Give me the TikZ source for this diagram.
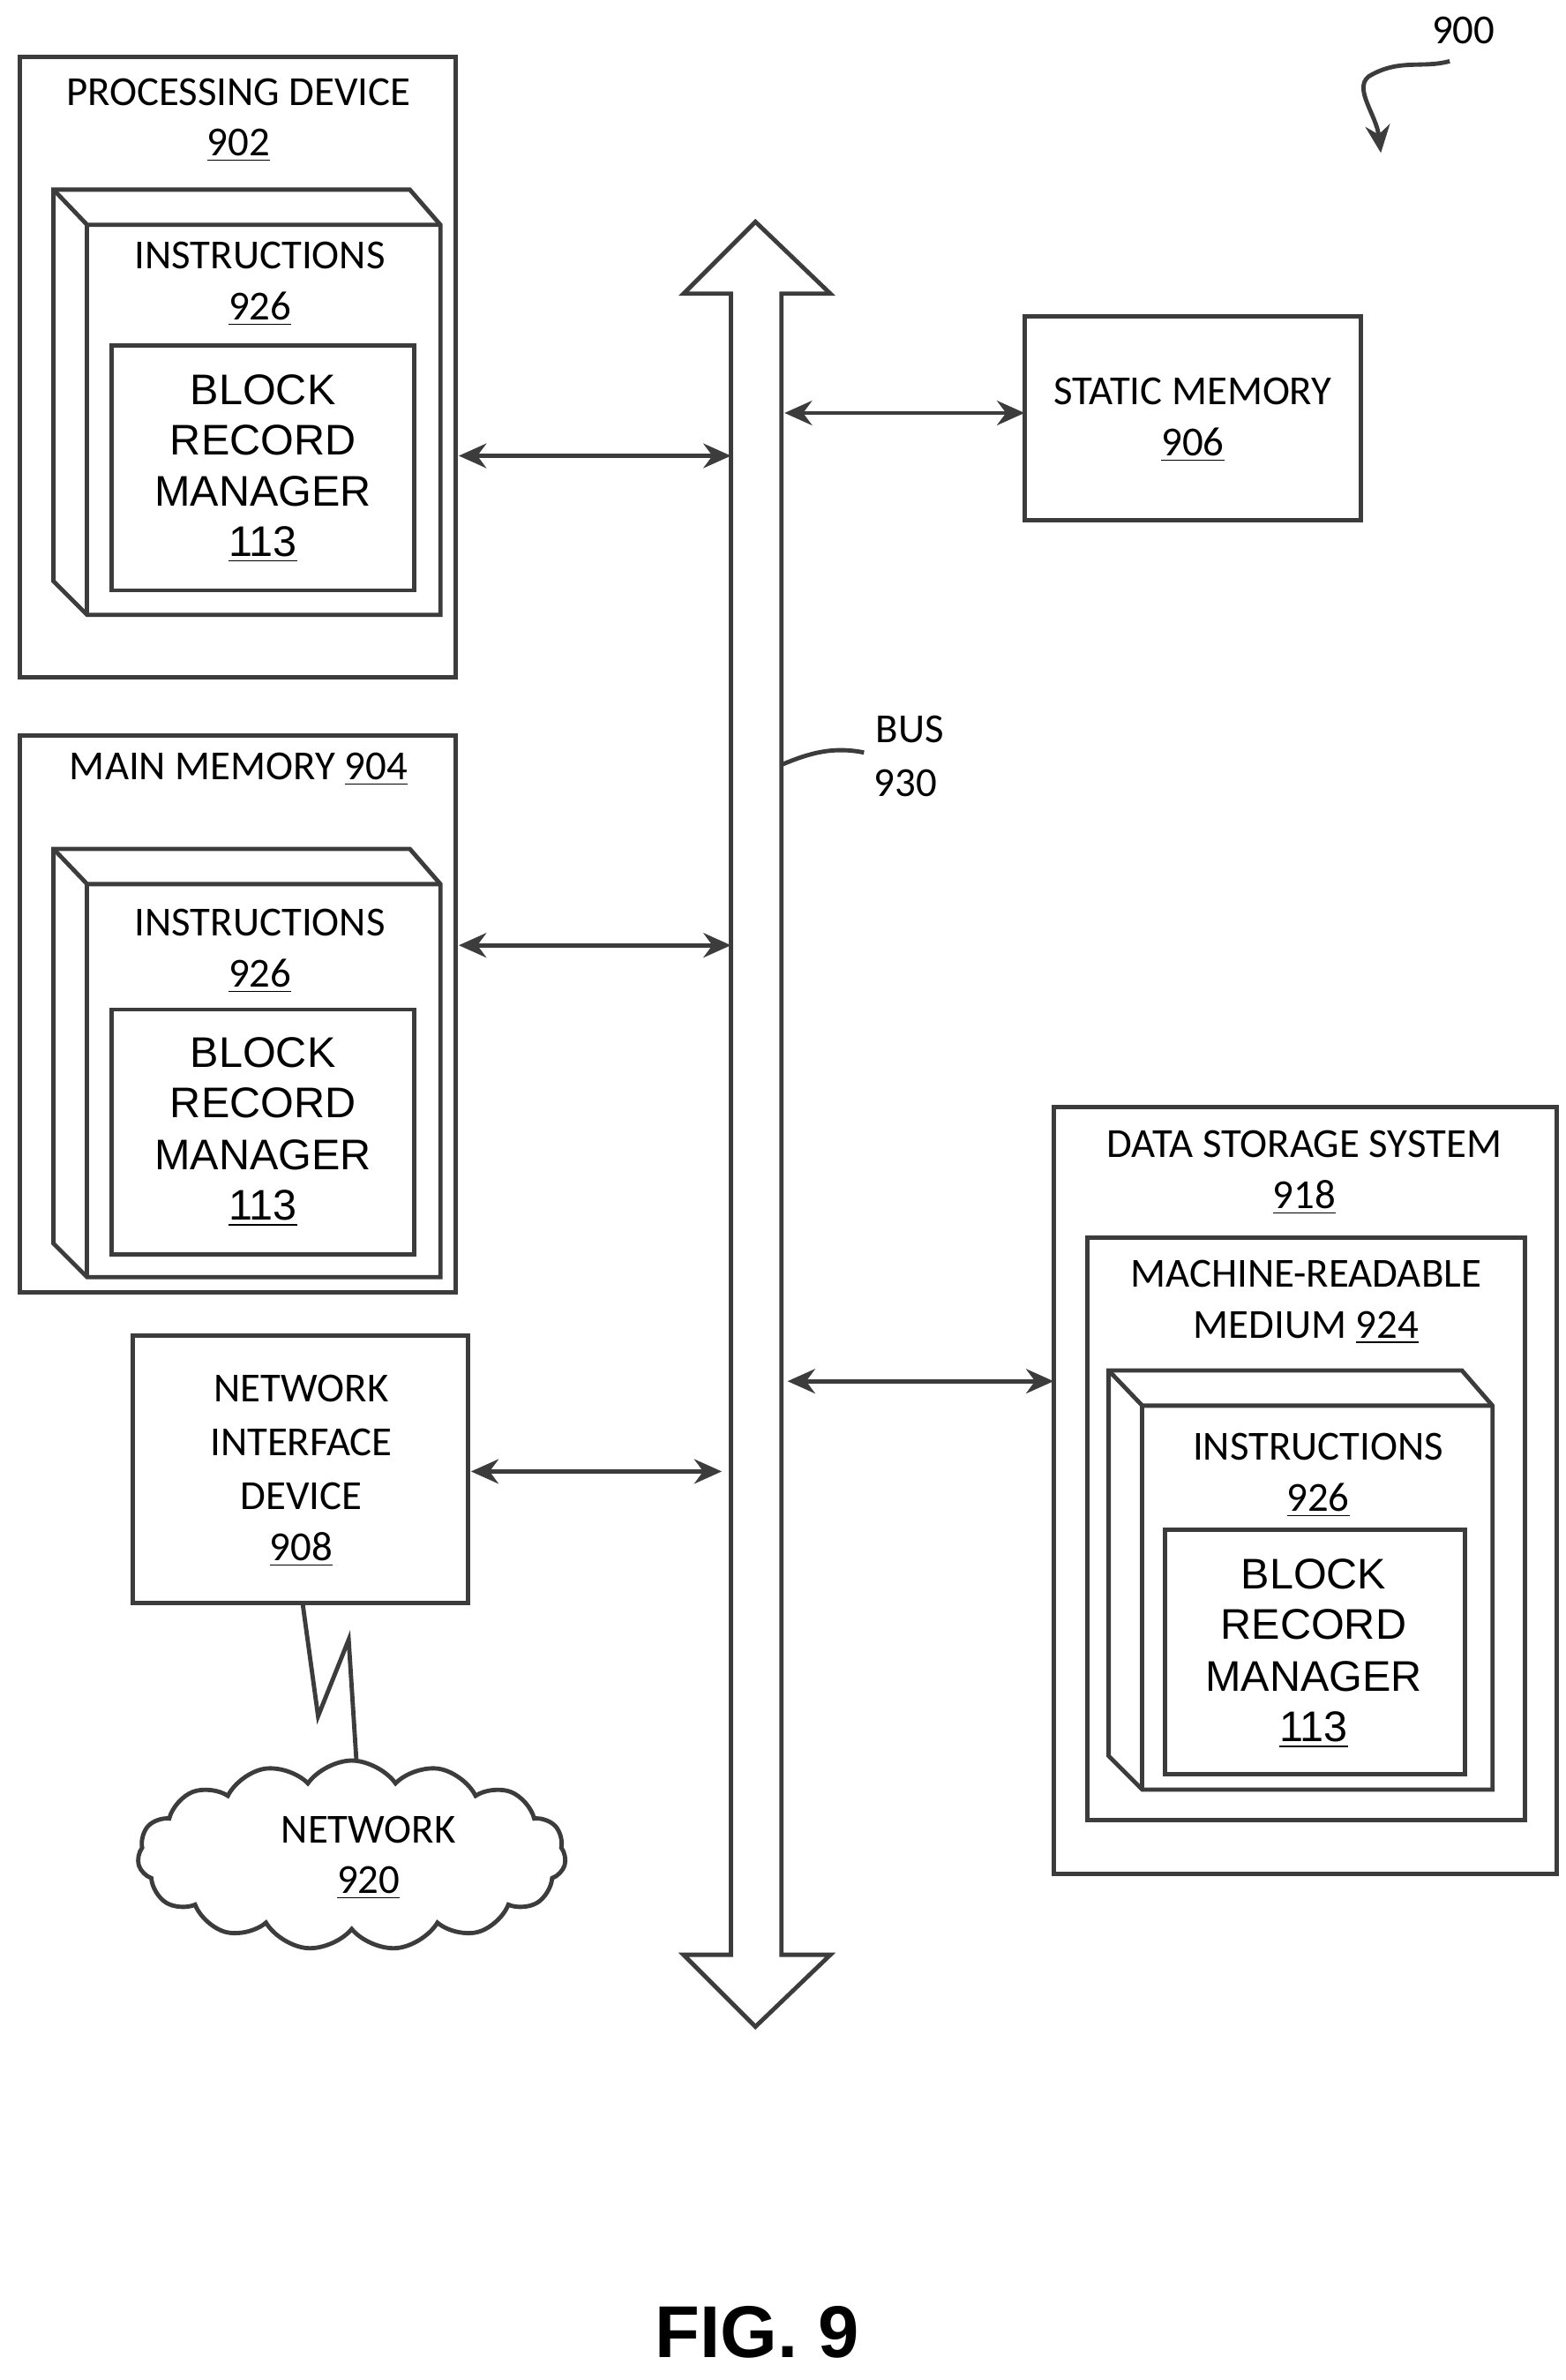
\documentclass[tikz,border=0pt]{standalone}
\usepackage{fontspec}
\setmainfont{Carlito}
\newfontfamily\arialf{Liberation Sans}
\usetikzlibrary{shapes.symbols,arrows.meta}
\definecolor{ln}{HTML}{3C3C3C}
\begin{document}
\begin{tikzpicture}[x=0.5pt,y=-0.5pt,
  box/.style={draw=ln,line width=1.4pt},
  lbl/.style={font=\fontsize{13.5}{15}\selectfont,inner sep=0pt,anchor=center},
  big/.style={font=\arialf\fontsize{14}{16}\selectfont,inner sep=0pt,anchor=center},
  dbl/.style={draw=ln,line width=1.4pt,{Stealth[length=9pt,width=8pt]}-{Stealth[length=9pt,width=8pt]}}]
\useasboundingbox (0,0) rectangle (1024,1556);
\newcommand{\threed}[4]{%
 \draw[box,line join=miter] (#1-22,#2-23) -- (#3-20,#2-23) -- (#3,#2) -- (#3,#4) -- (#1,#4) -- (#1-22,#4-22) -- cycle;
 \draw[box] (#1-22,#2-23) -- (#1,#2) -- (#3,#2);
 \draw[box] (#1,#2) -- (#1,#4);}
% Processing device
\draw[box] (13,37) rectangle (298,443);
\node[lbl] at (156,60) {PROCESSING DEVICE};
\node[lbl] at (156,95) {\underline{902}};
\threed{57}{147}{288}{402}
\node[lbl] at (170,167) {INSTRUCTIONS};
\node[lbl] at (170,202) {\underline{926}};
\draw[box] (73,226) rectangle (271,386);
\node[big] at (172,255) {BLOCK};
\node[big] at (172,288) {RECORD};
\node[big] at (172,321) {MANAGER};
\node[big] at (172,356) {\underline{113}};
% Main memory
\draw[box] (13,481) rectangle (298,845);
\node[lbl] at (156,503) {MAIN MEMORY \underline{904}};
\threed{57}{578}{288}{835}
\node[lbl] at (170,603) {INSTRUCTIONS};
\node[lbl] at (170,638) {\underline{926}};
\draw[box] (73,660) rectangle (271,820);
\node[big] at (172,688) {BLOCK};
\node[big] at (172,721) {RECORD};
\node[big] at (172,755) {MANAGER};
\node[big] at (172,790) {\underline{113}};
% Network interface
\draw[box] (87,873) rectangle (306,1048);
\node[lbl] at (197,908) {NETWORK};
\node[lbl] at (197,943) {INTERFACE};
\node[lbl] at (197,978) {DEVICE};
\node[lbl] at (197,1013) {\underline{908}};
\draw[box,line join=miter] (198,1049) -- (208,1122) -- (228,1072) -- (233,1150);
\node[cloud,cloud puffs=15,cloud puff arc=110,aspect=2.4,draw=ln,line width=1.4pt,minimum width=140pt,minimum height=62pt,inner sep=0pt] (net) at (230,1213) {};
\node[lbl] at (241,1196) {NETWORK};
\node[lbl] at (241,1231) {\underline{920}};
% Bus
\draw[box,line join=miter] (494,145) -- (543,192) -- (511,192) -- (511,1278) -- (543,1278) -- (494,1325) -- (447,1278) -- (478,1278) -- (478,192) -- (447,192) -- cycle;
\draw[box] (511,500) .. controls (530,492) and (545,488) .. (565,492);
\node[lbl] at (595,477) {BUS};
\node[lbl] at (592,512) {930};
% Static memory
\draw[box] (670,207) rectangle (890,340);
\node[lbl] at (780,256) {STATIC MEMORY};
\node[lbl] at (780,291) {\underline{906}};
% Data storage
\draw[box] (689,724) rectangle (1018,1225);
\node[lbl] at (853,748) {DATA STORAGE SYSTEM};
\node[lbl] at (853,783) {\underline{918}};
\draw[box] (711,809) rectangle (997,1190);
\node[lbl] at (854,833) {MACHINE-READABLE};
\node[lbl] at (854,868) {MEDIUM \underline{924}};
\threed{747}{919}{976}{1170}
\node[lbl] at (862,946) {INSTRUCTIONS};
\node[lbl] at (862,981) {\underline{926}};
\draw[box] (762,1000) rectangle (958,1160);
\node[big] at (859,1029) {BLOCK};
\node[big] at (859,1062) {RECORD};
\node[big] at (859,1096) {MANAGER};
\node[big] at (859,1131) {\underline{113}};
% Arrows
\draw[dbl] (300,298) -- (478,298);
\draw[dbl] (300,618) -- (478,618);
\draw[dbl] (308,962) -- (472,962);
\draw[dbl] (513,270) -- (670,270);
\draw[dbl] (515,903) -- (689,903);
% 900
\node[lbl] at (957,20) {900};
\draw[draw=ln,line width=1.4pt,-{Stealth[length=9pt,width=8pt]}] (948,40) .. controls (930,45) and (915,38) .. (895,50) .. controls (885,58) and (900,75) .. (903,100);
\node[font=\arialf\fontsize{24}{28}\selectfont\bfseries,inner sep=0pt] at (495,1525) {FIG. 9};
\end{tikzpicture}
\end{document}
